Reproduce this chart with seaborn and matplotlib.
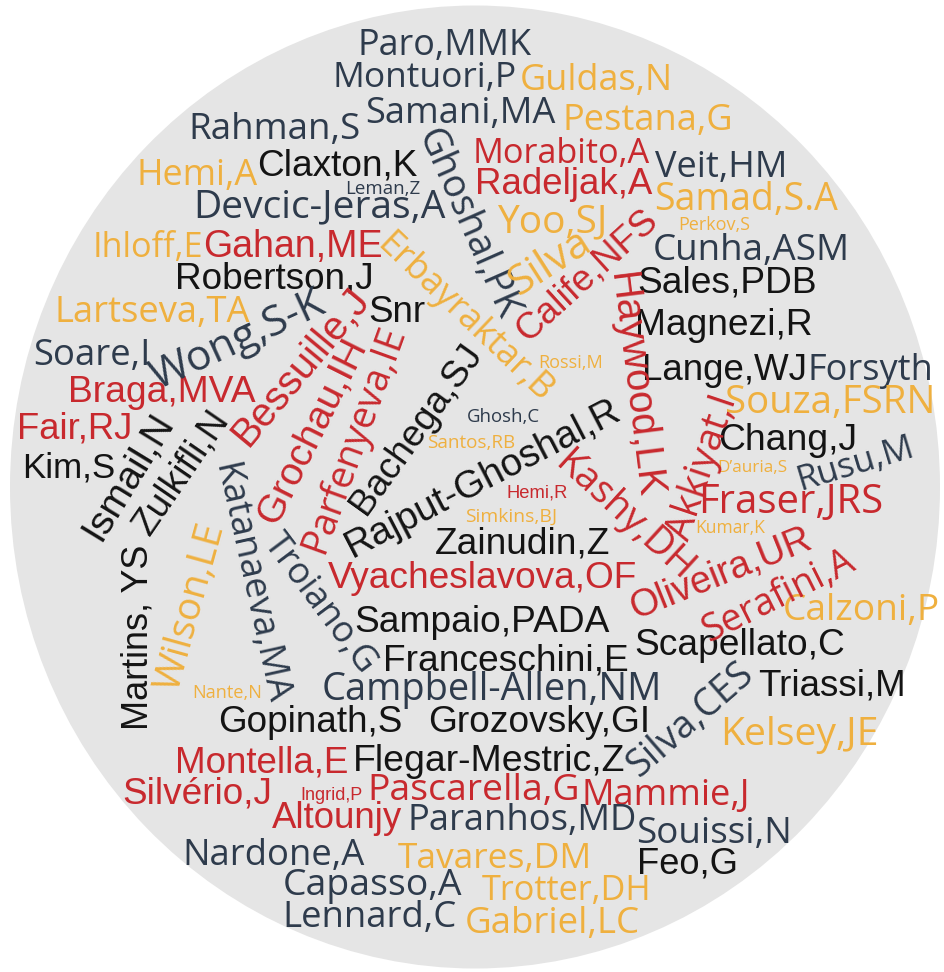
import math
import matplotlib
matplotlib.use("Agg")
import matplotlib.pyplot as plt
from matplotlib.patches import Ellipse
import seaborn as sns

# author names shown in the cloud
NAMES = [
    "Paro,MMK", "Montuori,P", "Guldas,N", "Samani,MA", "Pestana,G", "Rahman,S",
    "Claxton,K", "Hemi,A", "Leman,Z", "Devcic-Jeras,A", "Morabito,A", "Radeljak,A",
    "Veit,HM", "Samad,S.A", "Perkov,S", "Yoo,SJ", "Cunha,ASM", "Sales,PDB",
    "Ihloff,E", "Gahan,ME", "Robertson,J", "Lartseva,TA", "Snr", "Soare,I",
    "Braga,MVA", "Fair,RJ", "Kim,S", "Magnezi,R", "Lange,WJ", "Forsyth",
    "Souza,FSRN", "Chang,J", "D\u2019auria,S", "Rusu,M", "Fraser,JRS", "Kumar,K",
    "Calzoni,P", "Zainudin,Z", "Vyacheslavova,OF", "Sampaio,PADA", "Franceschini,E", "Campbell-Allen,NM",
    "Gopinath,S", "Grozovsky,GI", "Montella,E", "Flegar-Mestric,Z", "Silvério,J", "Ingrid,P",
    "Pascarella,G", "Mammie,J", "Altounjy", "Paranhos,MD", "Souissi,N", "Nardone,A",
    "Tavares,DM", "Feo,G", "Capasso,A", "Trotter,DH", "Lennard,C", "Gabriel,LC",
    "Scapellato,C", "Triassi,M", "Kelsey,JE", "Nante,N", "Rossi,M", "Ghosh,C",
    "Santos,RB", "Hemi,R", "Simkins,BJ", "Ghoshal,PK", "Erbayraktar,B", "Silva",
    "Calife,NFS", "Haywood,LK", "Kashy,DH", "Akkiyat,I", "Oliveira,UR", "Serafini,A",
    "Rajput-Ghoshal,R", "Bachega,SJ", "Grochau,IH", "Parfenyeva,IE", "Bessuille,J", "Wong,S-K",
    "Ismail,N", "Zulkifli,N", "Martins, YS", "Wilson,LE", "Katanaeva,MA", "Troiano,G",
    "Silva,CES",
]

# colour group per name: S slate, R red, O orange, K black (six names per chunk)
GROUPS = list(
    "SSOSOS" "KOSSRR" "SOOOSK" "ORKOKS" "RRKKKS" "OKOSRO"
    "OKRKKS" "KKRKRR" "RRRSSS" "OKSOSO" "KKOOOS" "OROSOO"
    "RRRRRR" "KKRRRS" "KKKOSS" "S"
)

# layout: baseline start/end in pixels (x0, y0, x1, y1)
LAYOUT = [
    (358, 55, 532, 55), (333, 87, 517, 87), (520, 90, 673, 90), (365, 123, 555, 123),
    (563, 130, 733, 130), (188, 139, 360, 139), (257, 175, 417, 175), (137, 185, 258, 185),
    (345, 194, 420, 194), (193, 217, 445, 217), (473, 163, 650, 163), (475, 194, 652, 194),
    (655, 177, 787, 177), (655, 210, 838, 210), (678, 230, 750, 230), (497, 232, 607, 232),
    (653, 260, 850, 260), (638, 292, 817, 292), (92, 257, 203, 257), (203, 257, 382, 257),
    (175, 288, 373, 288), (55, 322, 250, 322), (368, 322, 425, 322), (33, 365, 150, 365),
    (68, 402, 255, 402), (17, 438, 132, 438), (22, 477, 115, 477), (635, 335, 812, 335),
    (642, 380, 807, 380), (808, 380, 933, 380), (725, 413, 935, 413), (718, 450, 857, 450),
    (717, 472, 787, 472), (800, 490, 916, 455), (698, 513, 883, 513), (695, 533, 765, 533),
    (783, 620, 940, 620), (435, 553, 610, 553), (328, 588, 637, 588), (355, 632, 610, 632),
    (383, 670, 628, 670), (322, 700, 662, 700), (218, 732, 402, 732), (428, 732, 650, 732),
    (175, 772, 348, 772), (353, 771, 625, 771), (122, 803, 272, 803), (300, 800, 362, 800),
    (368, 800, 580, 800), (582, 805, 750, 805), (272, 828, 402, 828), (408, 830, 637, 830),
    (637, 843, 792, 843), (183, 865, 365, 865), (398, 868, 592, 868), (637, 873, 738, 873),
    (283, 895, 462, 895), (482, 900, 652, 900), (283, 927, 457, 927), (465, 933, 640, 933),
    (635, 655, 845, 655), (758, 695, 905, 695), (720, 745, 878, 745), (192, 698, 262, 698),
    (538, 368, 603, 368), (467, 422, 540, 422), (427, 448, 515, 448), (507, 497, 568, 497),
    (465, 522, 557, 522), (417, 135, 499, 321), (376, 247, 541, 404), (519, 296, 594, 248),
    (527, 343, 659, 223), (610, 274, 638, 499), (553, 465, 681, 582), (688, 542, 736, 399),
    (635, 619, 814, 547), (709, 642, 857, 568), (353, 558, 623, 418), (366, 516, 483, 353),
    (277, 526, 367, 346), (323, 555, 404, 331), (248, 448, 371, 300), (157, 390, 327, 312),
    (100, 542, 174, 421), (149, 537, 230, 419), (148, 730, 148, 545), (178, 693, 224, 527),
    (214, 466, 267, 705), (263, 543, 362, 675), (639, 778, 755, 677),
]

# typeface per name: A arial-like, R raleway-like (six names per chunk)
FACES = list(
    "RRRRRR" "ARRRRA" "RRRRRA" "RAARAR" "AAAAAR" "RARRRR"
    "RAAAAR" "AAAAAA" "RRARRR" "RARRRR" "AARRRR" "RARRRR"
    "AARRAR" "AAARAR" "AAARRR" "R"
)

PALETTE = dict(zip("SROK", sns.color_palette(["#2e3b4c", "#c8292e", "#efb03f", "#141414"])))
FAMILY = {"A": ["Liberation Sans", "DejaVu Sans"], "R": ["Open Sans", "DejaVu Sans"]}

W, H = 945, 972


def main():
    sns.set_theme(style="white")
    fig = plt.figure(figsize=(W / 100, H / 100), dpi=100)
    ax = fig.add_axes([0, 0, 1, 1])
    ax.set_xlim(0, W)
    ax.set_ylim(H, 0)
    ax.axis("off")

    ax.add_patch(Ellipse((475, 487), 930, 963, facecolor="#e5e5e5", edgecolor="none"))

    renderer = fig.canvas.get_renderer()
    for name, grp, (x0, y0, x1, y1), face in zip(NAMES, GROUPS, LAYOUT, FACES):
        length = math.hypot(x1 - x0, y1 - y0)
        angle = math.degrees(math.atan2(y0 - y1, x1 - x0))
        t = ax.text((x0 + x1) / 2, (y0 + y1) / 2, name, fontsize=20,
                    family=FAMILY[face], color=PALETTE[grp],
                    ha="center", va="baseline", rotation_mode="anchor")
        # scale the size so the word spans its slot
        w = t.get_window_extent(renderer).width
        t.set_fontsize(20 * length / w)
        t.set_rotation(angle)

    fig.savefig("out.png", dpi=100, facecolor="white")
    plt.close(fig)


if __name__ == "__main__":
    main()
